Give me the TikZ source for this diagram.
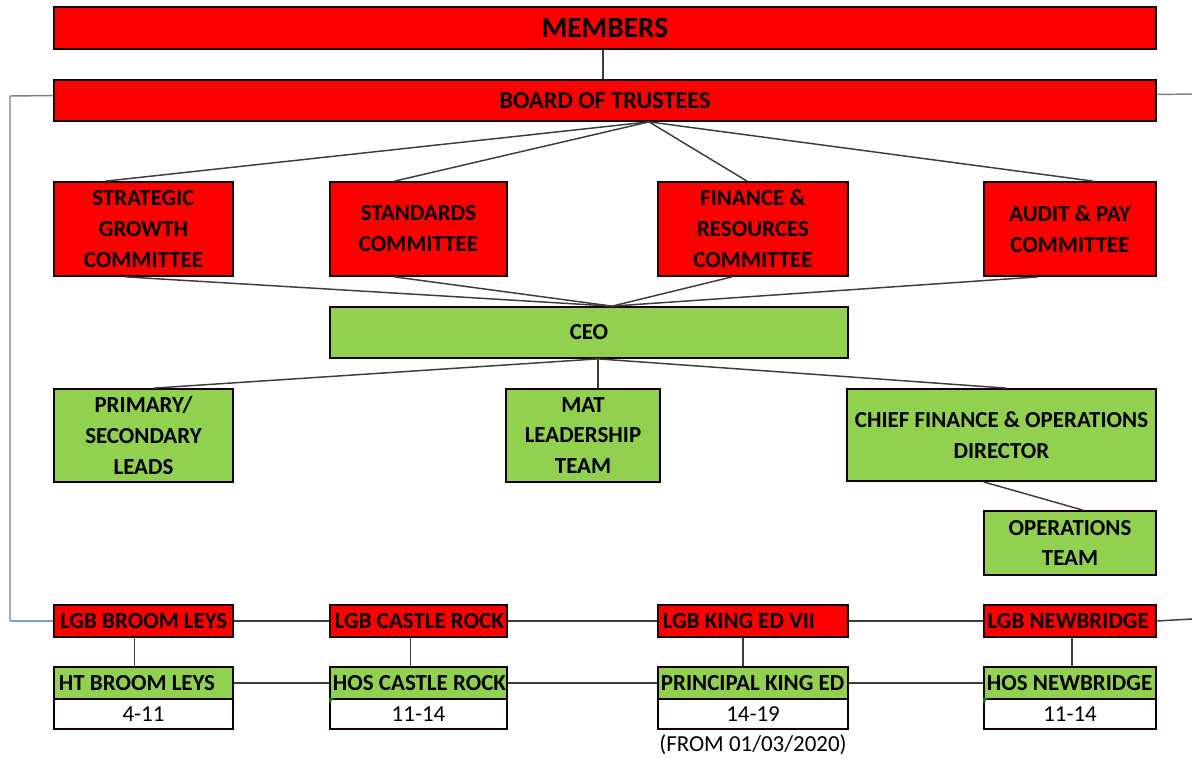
\documentclass[tikz,border=0pt]{standalone}
\usepackage{fontspec}
\setmainfont{Carlito}
\usetikzlibrary{fit,calc,positioning}

\tikzset{every picture/.style={line width=0.75pt}}
\tikzset{
  redbox/.style={color={rgb, 255:red, 20; green, 0; blue, 0 }, fill={rgb, 255:red, 255; green, 0; blue, 0 }, draw, line width=1.3pt, inner sep=0pt},
  greenbox/.style={redbox, fill={rgb, 255:red, 146; green, 208; blue, 80 }},
  agebox/.style={redbox, fill=white},
  boxtext/.style={inner sep=0pt, align=center, font=\bfseries\fontsize{17.2}{23.2}\selectfont},
  agetext/.style={inner sep=0pt, font=\fontsize{17.2}{20}\selectfont},
  lefttext/.style={inner sep=0pt, font=\bfseries\fontsize{17.2}{20}\selectfont},
  link/.style={color={rgb, 255:red, 60; green, 60; blue, 60 }, line width=1.1pt},
  sidelink/.style={color={rgb, 255:red, 128; green, 128; blue, 128 }, line width=1.1pt}
}

\begin{document}
\begin{tikzpicture}[x=0.75pt,y=0.75pt,yscale=-1,xscale=1]
\path[use as bounding box] (0,0) rectangle (1192,758);

%Shape: Rectangle [members]
\node (members) [redbox, fit={(54,7) (1156,49)}, label={[boxtext, font=\bfseries\fontsize{22}{26}\selectfont]center:MEMBERS}] {};
%Shape: Rectangle [board]
\node (board) [redbox, fit={(54,80) (1156,121)}, label={[boxtext, font=\bfseries\fontsize{18.2}{22}\selectfont]center:BOARD OF TRUSTEES}] {};

%Shape: Rectangle [committees]
\node (strat) [redbox, fit={(54,182) (233,276)}, label={[boxtext]center:STRATEGIC\\GROWTH\\COMMITTEE}] {};
\node (stand) [redbox, fit={(330,182) (507,276)}, label={[boxtext]center:STANDARDS\\COMMITTEE}] {};
\node (fin) [redbox, fit={(658,182) (848,276)}, label={[boxtext]center:FINANCE \&\\RESOURCES\\COMMITTEE}] {};
\node (audit) [redbox, fit={(984,182) (1156,276)}, label={[boxtext]center:AUDIT \& PAY\\COMMITTEE}] {};

%Shape: Rectangle [executive]
\node (ceo) [greenbox, fit={(330,307) (848,358)}, label={[boxtext]center:CEO}] {};
\node (prim) [greenbox, fit={(54,389) (233,482)}, label={[boxtext]center:PRIMARY/\\SECONDARY\\LEADS}] {};
\node (mat) [greenbox, fit={(506,389) (660,482)}, label={[boxtext]center:MAT\\LEADERSHIP\\TEAM}] {};
\node (cfo) [greenbox, fit={(847,389) (1156,481)}, label={[boxtext]center:CHIEF FINANCE \& OPERATIONS\\DIRECTOR}] {};
\node (ops) [greenbox, fit={(984,511) (1156,575)}, label={[boxtext]center:OPERATIONS\\TEAM}] {};

%Shape: Rectangle [local governing boards]
\node (lgbBroom) [redbox, fit={(54,605) (233,637)}] {};
\node (lgbCastle) [redbox, fit={(330,605) (507,637)}] {};
\node (lgbKing) [redbox, fit={(658,605) (848,637)}] {};
\node (lgbNew) [redbox, fit={(984,605) (1156,637)}] {};

%Shape: Rectangle [heads of school]
\node (htBroom) [greenbox, fit={(54,667) (233,699)}] {};
\node (htCastle) [greenbox, fit={(330,667) (507,699)}] {};
\node (htKing) [greenbox, fit={(658,667) (848,699)}] {};
\node (htNew) [greenbox, fit={(984,667) (1156,699)}] {};

%Shape: Rectangle [age ranges]
\node (ageBroom) [agebox, fit={(54,699) (233,729)}, label={[agetext]center:4-11}] {};
\node (ageCastle) [agebox, fit={(330,699) (507,729)}, label={[agetext]center:11-14}] {};
\node (ageKing) [agebox, fit={(658,699) (848,729)}, label={[agetext]center:14-19}] {};
\node (ageNew) [agebox, fit={(984,699) (1156,729)}, label={[agetext]center:11-14}] {};

% Text Node
\node (lgbBroomTxt) [lefttext, right=5pt of lgbBroom.west] {LGB BROOM LEYS};
\node (lgbCastleTxt) [lefttext, right=4pt of lgbCastle.west] {LGB CASTLE ROCK};
\node (lgbKingTxt) [lefttext, right=4pt of lgbKing.west] {LGB KING ED VII};
\node (lgbNewTxt) [lefttext, right=3pt of lgbNew.west] {LGB NEWBRIDGE};
\node (htBroomTxt) [lefttext, right=4pt of htBroom.west] {HT BROOM LEYS};
\node (htCastleTxt) [lefttext, right=2.5pt of htCastle.west] {HOS CASTLE ROCK};
\node (htKingTxt) [lefttext, right=2.5pt of htKing.west] {PRINCIPAL KING ED};
\node (htNewTxt) [lefttext, right=2.5pt of htNew.west] {HOS NEWBRIDGE};
% Text Node
\node (fromDate) [agetext, below=3pt of ageKing] {(FROM 01/03/2020)};

%Shape: Triangle [cell marks]
\fill [color={rgb, 255:red, 0; green, 128; blue, 0 }] (ageCastle.north west) -- ++(5,0) -- ++(-5,5) -- cycle;
\fill [color={rgb, 255:red, 0; green, 128; blue, 0 }] (ageNew.north west) -- ++(5,0) -- ++(-5,5) -- cycle;

%Straight Lines [members to board]
\draw [link] (members.south) ++(-2,0) coordinate (memFoot) -- (memFoot |- board.north);

%Straight Lines [board to committees]
\coordinate (brdHub) at ($(board.south)+(44,0)$);
\draw [link] (brdHub) -- ($(strat.north)+(-38,0)$);
\draw [link] (brdHub) -- ($(stand.north)+(-24,0)$);
\draw [link] (brdHub) -- ($(fin.north)+(-6,0)$);
\draw [link] (brdHub) -- ($(audit.north)+(23,0)$);

%Straight Lines [committees to ceo]
\coordinate (ceoTop) at ($(ceo.north)+(23,0)$);
\draw [link] ($(strat.south)+(-18,0)$) -- (ceoTop);
\draw [link] ($(stand.south)+(-24,0)$) -- (ceoTop);
\draw [link] ($(fin.south)+(-21,0)$) -- (ceoTop);
\draw [link] ($(audit.south)+(-32,0)$) -- (ceoTop);

%Straight Lines [ceo to executive]
\coordinate (ceoFoot) at ($(ceo.south)+(9,0)$);
\draw [link] (ceoFoot) -- ($(prim.north)+(10,0)$);
\draw [link] (ceoFoot) -- (ceoFoot |- mat.north);
\draw [link] (ceoFoot) -- ($(cfo.north)+(5,0)$);
\draw [link] ($(cfo.south)+(-18,0)$) -- ($(ops.north)+(13,0)$);

%Straight Lines [side links]
\coordinate (leftRail) at (10,96);
\coordinate (rightTop) at (1192,94);
\coordinate (rightLow) at (1192,619);
\draw [sidelink] ($(board.west)+(0,-5)$) -- (leftRail) -- (leftRail |- lgbBroom.west);
\draw [color={rgb, 255:red, 120; green, 160; blue, 210 }, line width=1.1pt] (leftRail |- lgbBroom.west) -- (lgbBroom.west);
\draw [sidelink] ($(board.east)+(0,-6)$) -- (rightTop);
\draw [link] (lgbNew.east) -- (rightLow);

%Straight Lines [school rows]
\draw [link] (lgbBroom.east) -- (lgbCastle.west);
\draw [link] (lgbCastle.east) -- (lgbKing.west);
\draw [link] (lgbKing.east) -- (lgbNew.west);
\draw [link] (htBroom.east) -- (htCastle.west);
\draw [link] (htCastle.east) -- (htKing.west);
\draw [link] (htKing.east) -- (htNew.west);
\draw [link] ($(lgbBroom.south)+(-9,0)$) -- ($(htBroom.north)+(-9,0)$);
\draw [link] ($(lgbCastle.south)+(-8,0)$) -- ($(htCastle.north)+(-8,0)$);
\draw [link] ($(lgbKing.south)+(-10,0)$) -- ($(htKing.north)+(-10,0)$);
\draw [link] ($(lgbNew.south)+(2,0)$) -- ($(htNew.north)+(2,0)$);

\end{tikzpicture}
\end{document}
